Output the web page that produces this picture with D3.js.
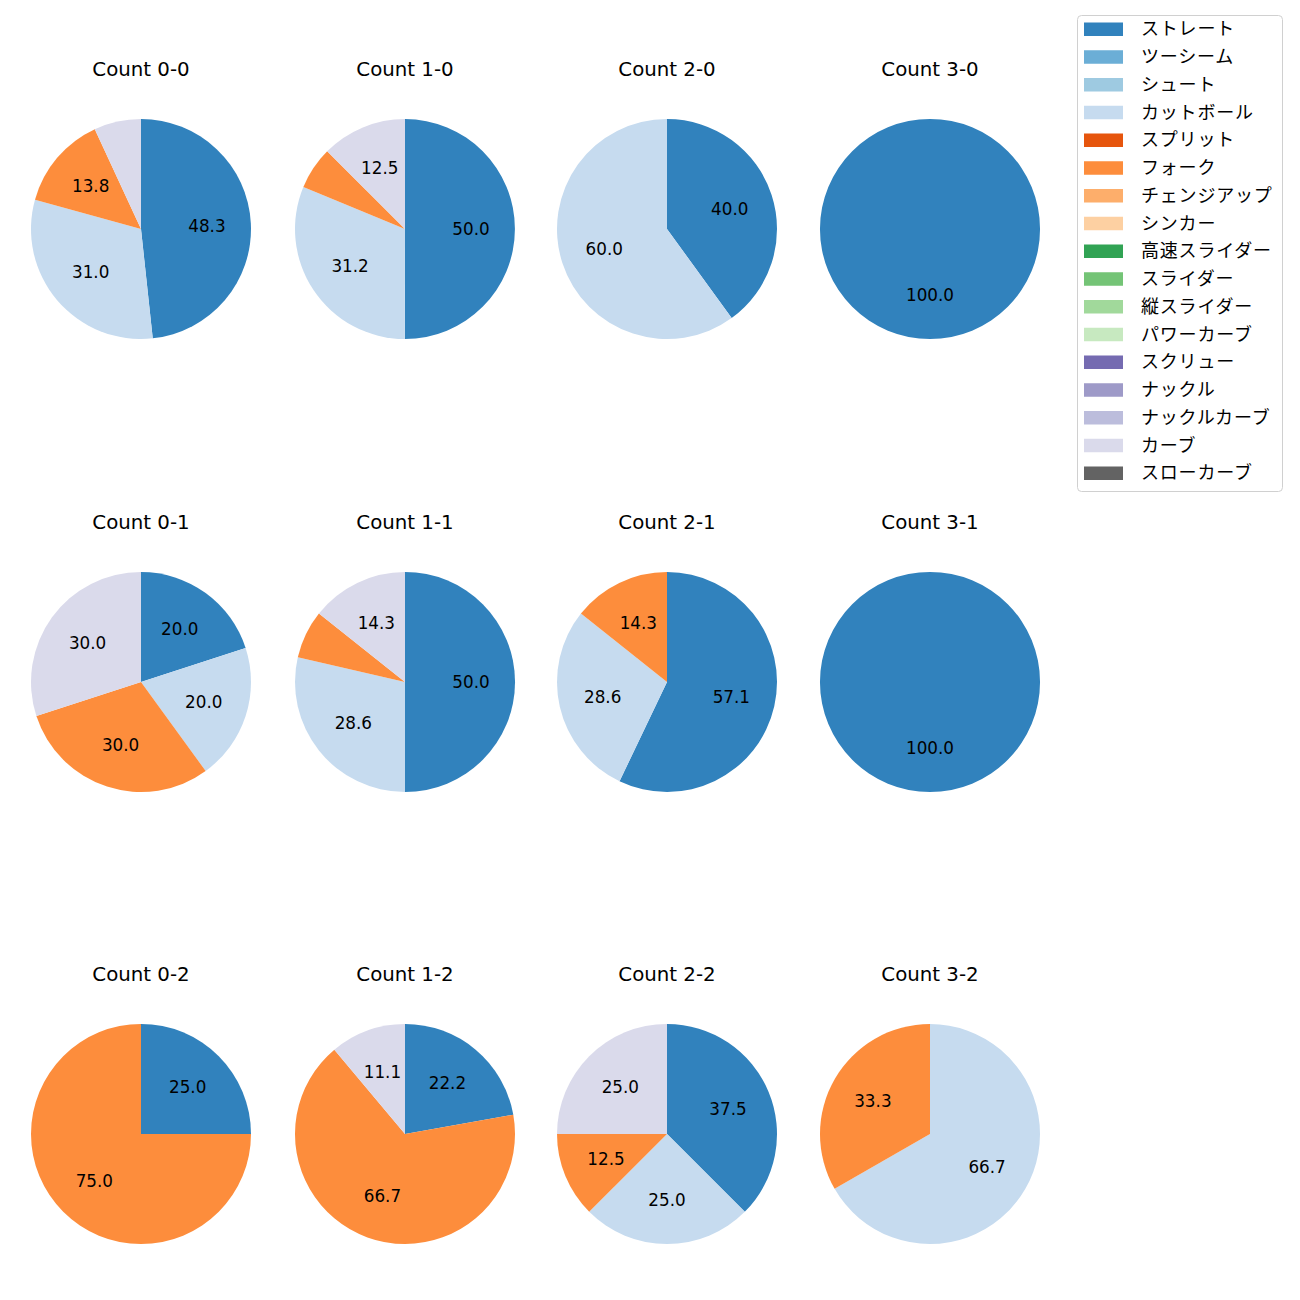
<!DOCTYPE html>
<html><head><meta charset="utf-8">
<script src="https://cdn.jsdelivr.net/npm/d3@7"></script>
<style>body{margin:0;background:#fff}svg{display:block}text{font-family:"DejaVu Sans","Noto Sans CJK JP",sans-serif}text.jp{font-family:"Noto Sans CJK JP",sans-serif}</style>
</head><body><svg id="c" width="1300" height="1300"></svg>
<script>
const categories = ["ストレート","ツーシーム","シュート","カットボール","スプリット","フォーク","チェンジアップ","シンカー","高速スライダー","スライダー","縦スライダー","パワーカーブ","スクリュー","ナックル","ナックルカーブ","カーブ","スローカーブ"];
const colors = ["#3182bd","#6baed6","#9ecae1","#c6dbef","#e6550d","#fd8d3c","#fdae6b","#fdd0a2","#31a354","#74c476","#a1d99b","#c7e9c0","#756bb1","#9e9ac8","#bcbddc","#dadaeb","#636363"];
const titles = ["Count 0-0","Count 1-0","Count 2-0","Count 3-0","Count 0-1","Count 1-1","Count 2-1","Count 3-1","Count 0-2","Count 1-2","Count 2-2","Count 3-2"];
// percentages per pitch type (order of categories)
const c00 = [48.3,0,0,31.0,0,13.8,0,0,0,0,0,0,0,0,0,6.9,0];
const c10 = [50.0,0,0,31.2,0,6.25,0,0,0,0,0,0,0,0,0,12.5,0];
const c20 = [40.0,0,0,60.0,0,0,0,0,0,0,0,0,0,0,0,0,0];
const c30 = [100.0,0,0,0,0,0,0,0,0,0,0,0,0,0,0,0,0];
const c01 = [20.0,0,0,20.0,0,30.0,0,0,0,0,0,0,0,0,0,30.0,0];
const c11 = [50.0,0,0,28.6,0,7.1,0,0,0,0,0,0,0,0,0,14.3,0];
const c21 = [57.1,0,0,28.6,0,14.3,0,0,0,0,0,0,0,0,0,0,0];
const c31 = [100.0,0,0,0,0,0,0,0,0,0,0,0,0,0,0,0,0];
const c02 = [25.0,0,0,0,0,75.0,0,0,0,0,0,0,0,0,0,0,0];
const c12 = [22.2,0,0,0,0,66.7,0,0,0,0,0,0,0,0,0,11.1,0];
const c22 = [37.5,0,0,25.0,0,12.5,0,0,0,0,0,0,0,0,0,25.0,0];
const c32 = [0,0,0,66.7,0,33.3,0,0,0,0,0,0,0,0,0,0,0];
const allCounts = [c00,c10,c20,c30,c01,c11,c21,c31,c02,c12,c22,c32];

const svg = d3.select("#c");
const colX = d3.scaleOrdinal().domain([0,1,2,3]).range([141,405,667,930]);
const rowY = d3.scaleOrdinal().domain([0,1,2]).range([229,682,1134]);
const R = 110;
const color = d3.scaleOrdinal().domain(categories).range(colors);
const pie = d3.pie().sort(null).value(d=>d.v);
const arc = d3.arc().innerRadius(0).outerRadius(R);
const labelArc = d3.arc().innerRadius(R*0.6).outerRadius(R*0.6);

allCounts.forEach((vals,i)=>{
  const col=i%4, row=Math.floor(i/4);
  const g = svg.append("g").attr("transform",`translate(${colX(col)},${rowY(row)})`);
  const data = categories.map((c,k)=>({c, v: vals[k]})).filter(d=>d.v>0);
  const total = d3.sum(data,d=>d.v);
  const arcs = pie(data);
  g.selectAll("path").data(arcs).join("path").attr("d",arc).attr("fill",d=>color(d.data.c));
  g.selectAll("text.l").data(arcs.filter(d=>d.data.v/total*100>=10)).join("text").attr("class","l")
    .attr("transform",d=>`translate(${labelArc.centroid(d)})`)
    .attr("text-anchor","middle").attr("dy","0.36em").attr("font-size",16.8).attr("fill","#000")
    .text(d=>(d.data.v/total*100).toFixed(1));
  svg.append("text").attr("x",colX(col)).attr("y",rowY(row)-160).attr("dy","0.36em")
    .attr("text-anchor","middle").attr("font-size",19.8).attr("fill","#000").text(titles[i]);
});

// legend
const lg = svg.append("g");
lg.append("rect").attr("x",1077.5).attr("y",15.5).attr("width",205).attr("height",476).attr("rx",4)
  .attr("fill","#fff").attr("stroke","#d0d0d0").attr("stroke-width",1);
const ly = d3.scalePoint().domain(categories).range([29,473]);
categories.forEach(c=>{
  lg.append("rect").attr("x",1084).attr("y",ly(c)-6.5).attr("width",39).attr("height",13.5).attr("fill",color(c));
  lg.append("text").attr("class","jp").attr("x",1141).attr("y",ly(c)).attr("dy","0.36em").attr("font-size",18)
    .attr("letter-spacing",0.8).attr("fill","#000").text(c);
});
</script></body></html>
